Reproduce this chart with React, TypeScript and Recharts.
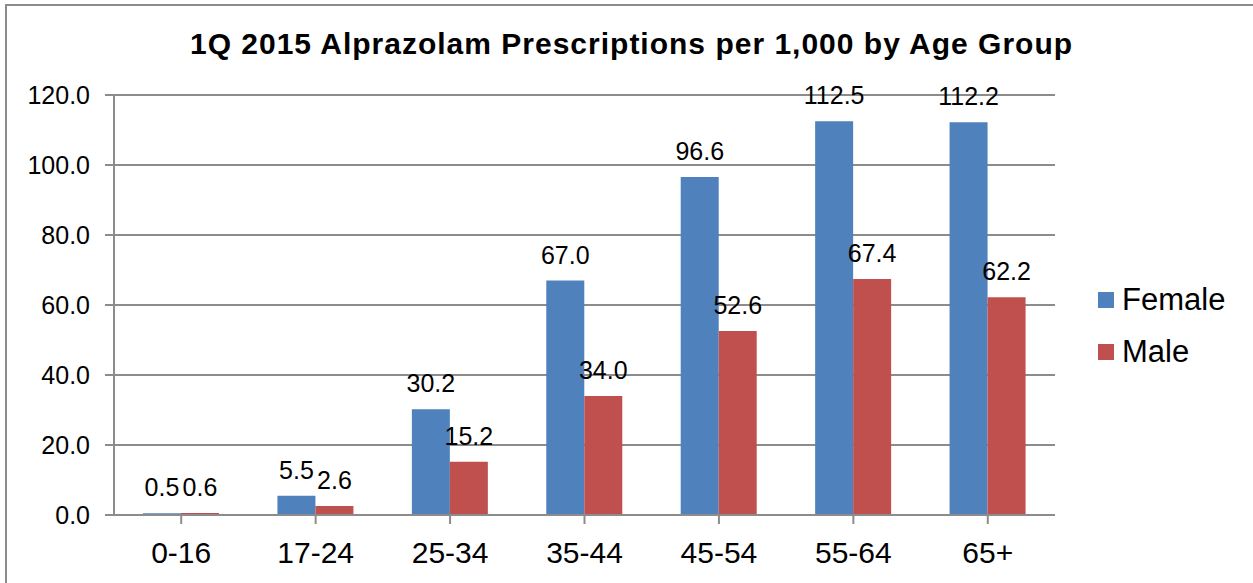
import { BarChart, Bar, XAxis, YAxis, CartesianGrid, LabelList } from 'recharts'

const AGE_GROUPS = ['0-16', '17-24', '25-34', '35-44', '45-54', '55-64', '65+']
const FEMALE = [0.5, 5.5, 30.2, 67.0, 96.6, 112.5, 112.2]
const MALE = [0.6, 2.6, 15.2, 34.0, 52.6, 67.4, 62.2]
const Y_TICKS = [0, 20, 40, 60, 80, 100, 120]

const COLORS = {
  female: '#4F81BD', // blue
  male: '#C0504D',   // red
}

const FONT = '"Liberation Sans", Arial, sans-serif'
const GRID = '#8c8c8c'

const data = AGE_GROUPS.map((age, i) => ({ age, Female: FEMALE[i], Male: MALE[i] }))

const LEGEND_ITEMS = [
  { name: 'Female', color: COLORS.female },
  { name: 'Male', color: COLORS.male },
]

export default function App() {
  return (
    <div style={{ position: 'absolute', left: 0, top: 0, width: 1253, height: 583, overflow: 'hidden', background: '#fff' }}>
      {/* chart frame */}
      <div style={{ position: 'absolute', left: 5, top: 4, width: 1300, height: 700, border: `2px solid ${GRID}` }} />
      <div
        style={{
          position: 'absolute', left: 0, top: 26, width: 1263, textAlign: 'center',
          fontFamily: FONT, fontWeight: 'bold', fontSize: 30, letterSpacing: 1, color: '#000', lineHeight: '36px',
        }}
      >
        1Q 2015 Alprazolam Prescriptions per 1,000 by Age Group
      </div>
      <BarChart
        width={1253}
        height={583}
        data={data}
        margin={{ top: 95, right: 198, bottom: 8, left: 14 }}
        barGap={0}
        barSize={38}
        style={{ position: 'absolute', left: 0, top: 0, fontFamily: FONT }}
      >
        <CartesianGrid vertical={false} stroke={GRID} strokeWidth={2} />
        <XAxis
          dataKey="age"
          height={60}
          stroke={GRID}
          strokeWidth={2}
          tickSize={9}
          tickMargin={18}
          tick={{ fill: '#000', fontSize: 30 }}
          interval={0}
        />
        <YAxis
          width={100}
          domain={[0, 120]}
          ticks={Y_TICKS}
          stroke={GRID}
          strokeWidth={2}
          tickSize={9}
          tickMargin={15}
          tick={{ fill: '#000', fontSize: 25 }}
          tickFormatter={(v: number) => v.toFixed(1)}
        />
        <Bar dataKey="Female" fill={COLORS.female} isAnimationActive={false}>
          <LabelList dataKey="Female" position="top" offset={17} fill="#000" fontSize={25} formatter={(v: any) => Number(v).toFixed(1)} />
        </Bar>
        <Bar dataKey="Male" fill={COLORS.male} isAnimationActive={false}>
          <LabelList dataKey="Male" position="top" offset={17} fill="#000" fontSize={25} formatter={(v: any) => Number(v).toFixed(1)} />
        </Bar>
      </BarChart>
      {/* legend */}
      <div style={{ position: 'absolute', left: 1098, top: 274, fontFamily: FONT, fontSize: 31, color: '#000' }}>
        {LEGEND_ITEMS.map(item => (
          <div key={item.name} style={{ display: 'flex', alignItems: 'center', height: 52 }}>
            <span style={{ width: 16, height: 16, background: item.color, marginRight: 8 }} />
            <span>{item.name}</span>
          </div>
        ))}
      </div>
    </div>
  )
}
